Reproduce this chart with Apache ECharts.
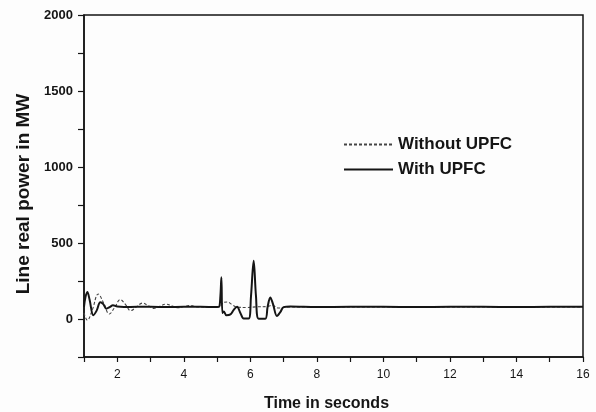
<!DOCTYPE html>
<html>
<head>
<meta charset="utf-8">
<script src="https://cdn.jsdelivr.net/npm/echarts@6/dist/echarts.min.js"></script>
<style>
html,body{margin:0;padding:0;background:#fdfdfd;}
#chart{width:596px;height:412px;}
</style>
</head>
<body>
<div id="chart"></div>
<script>
// Time axis (seconds) and values (MW)
const tWith = [1.0,1.04,1.1,1.17,1.28,1.38,1.49,1.58,1.67,1.77,
  1.87,2.0,2.2,2.6,3.0,3.5,4.0,4.5,5.0,5.06,
  5.1,5.13,5.16,5.2,5.28,5.4,5.5,5.6,5.7,5.8,
  5.95,6.02,6.1,6.17,6.25,6.45,6.52,6.6,6.68,6.8,
  6.9,7.0,7.2,8,9,10,11,12,13,14,
  15,16];
const vWith = [80,140,178,125,25,55,110,98,68,78,
  90,82,79,80,80,79,80,80,79,80,
  150,274,40,50,25,30,60,80,40,3,
  3,150,383,150,2,2,80,142,100,20,
  45,78,82,79,80,80,79,80,80,79,
  80,80];
const tWithout = [1.0,1.1,1.25,1.43,1.6,1.76,1.92,2.09,2.25,2.4,
  2.58,2.76,2.93,3.1,3.28,3.46,3.65,3.82,4.0,4.2,
  4.4,4.7,5.05,5.1,5.2,5.3,5.45,5.6,5.9,6.2,
  6.5,6.65,6.85,7.1,8,10,12,14,16];
const vWithout = [40,-8,60,164,100,33,75,127,95,55,
  80,105,88,70,84,98,85,74,82,88,
  80,80,80,85,110,112,95,78,76,80,
  82,90,72,80,80,80,80,80,80];
const seriesNames = ['Without UPFC','With UPFC'];
const xTitle = 'Time in seconds';
const yTitle = 'Line real power in MW';

const pair = (t, v) => t.map((x, i) => [x, v[i]]);
const FONT = '"Liberation Sans", Arial, sans-serif';
const INK = '#151515';

const legendBase = {
  left: 343, itemWidth: 49, itemHeight: 17, padding: 0,
  itemStyle: {opacity: 0},
  textStyle: {fontFamily: FONT, fontSize: 17, fontWeight: 'bold', color: INK}
};

const chart = echarts.init(document.getElementById('chart'), null, {renderer:'canvas'});
chart.setOption({
  backgroundColor: '#fdfdfd',
  animation: false,
  textStyle: {fontFamily: FONT, color: INK},
  grid: {left: 84, right: 13, top: 15, bottom: 55, containLabel: false, outerBoundsMode: 'none',
    show: true, borderColor: INK, borderWidth: 1.5, backgroundColor: 'transparent'},
  legend: [
    Object.assign({}, legendBase, {data: [seriesNames[0]], top: 136}),
    Object.assign({}, legendBase, {data: [seriesNames[1]], top: 161})
  ],
  xAxis: {
    type: 'value', min: 1, max: 16, interval: 1,
    name: xTitle, nameLocation: 'middle', nameGap: 39,
    nameTextStyle: {fontFamily: FONT, fontSize: 16, fontWeight: 'bold', color: INK, padding: [0, 14, 0, 0]},
    axisLine: {show: true, onZero: false, lineStyle: {color: INK, width: 1.5}},
    axisTick: {show: true, inside: false, length: 5, lineStyle: {color: INK, width: 1.2}},
    axisLabel: {fontFamily: FONT, fontSize: 12, color: INK, margin: 12,
      formatter: v => (v % 2 === 0 ? String(v) : '')},
    splitLine: {show: false}
  },
  yAxis: {
    type: 'value', min: -250, max: 2000, interval: 250,
    name: yTitle, nameLocation: 'middle', nameGap: 51,
    nameTextStyle: {fontFamily: FONT, fontSize: 19, fontWeight: 'bold', color: INK, padding: [0, 16, 0, 0]},
    axisLine: {show: true, onZero: false, lineStyle: {color: INK, width: 1.5}},
    axisTick: {show: true, inside: false, length: 6, lineStyle: {color: INK, width: 1.2}},
    axisLabel: {fontFamily: FONT, fontSize: 13, fontWeight: 'bold', color: INK, margin: 11,
      formatter: v => (v % 500 === 0 ? String(v) : '')},
    splitLine: {show: false}
  },
  series: [
    {name: seriesNames[0], type: 'line', data: pair(tWithout, vWithout), symbol: 'none', smooth: 0.4,
     lineStyle: {color: '#444', width: 1.1, type: [3, 2]}, itemStyle: {color: '#444'}, z: 2},
    {name: seriesNames[1], type: 'line', data: pair(tWith, vWith), symbol: 'none', smooth: 0.35,
     lineStyle: {color: INK, width: 2}, itemStyle: {color: INK}, z: 3}
  ]
});
</script>
</body>
</html>
